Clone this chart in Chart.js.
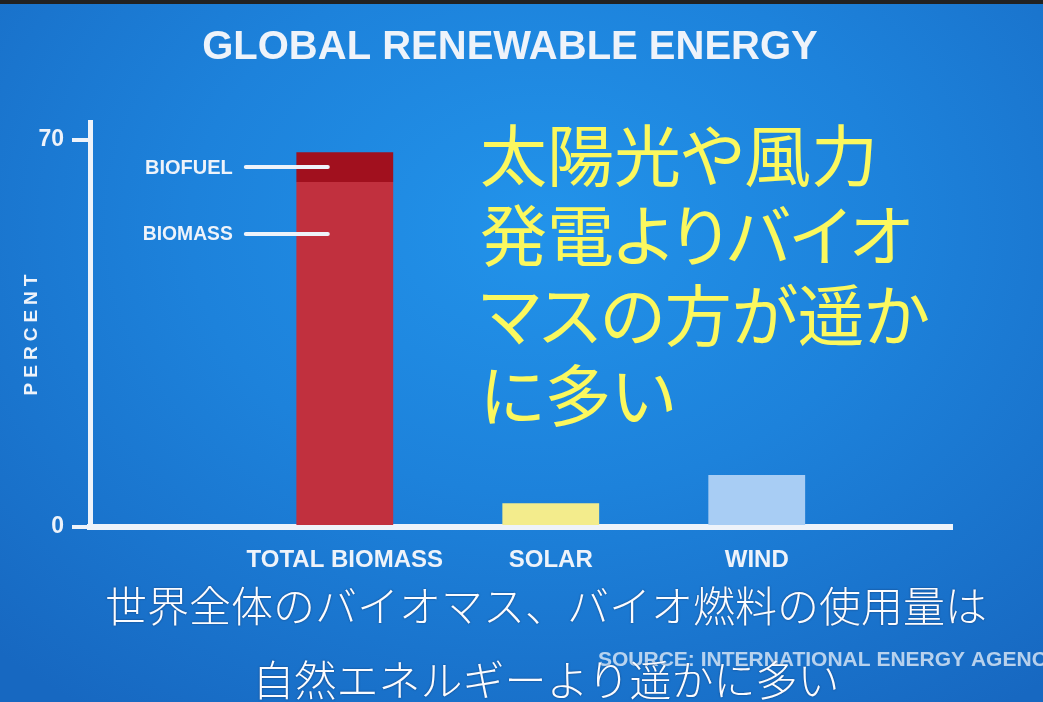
<!DOCTYPE html>
<html>
<head>
<meta charset="utf-8">
<script src="https://cdn.jsdelivr.net/npm/chart.js@4.4.1/dist/chart.umd.min.js"></script>
<style>
    html, body { margin: 0; padding: 0; background: #1c1c1c; }
    #wrap {
        position: relative; width: 1043px; height: 702px; overflow: hidden;
        background: radial-gradient(ellipse 75% 85% at 52% 32%, #2293ea 0%, #1d82db 45%, #1768c1 100%);
    }
    #strip { position: absolute; left: 0; top: 0; width: 100%; height: 4px; background: #222; }
    #chart { position: absolute; left: 0; top: 0; width: 1043px; height: 702px; }
    #note {
        position: absolute; left: 480px; top: 112px;
        font-family: "Noto Sans CJK JP", sans-serif; font-size: 67px; line-height: 80px;
        font-feature-settings: "palt";
        color: #fbf85e; white-space: nowrap;
    }
    #sub {
        position: absolute; left: 0; top: 567px; width: 1092px; text-align: center;
        font-family: "Noto Sans CJK JP", sans-serif; font-weight: 300; font-size: 42px; line-height: 74px;
        color: #fbfcff; white-space: nowrap;
        text-shadow: 0 0 2px rgba(20, 40, 80, 0.7);
    }
</style>
</head>
<body>
<div id="wrap">
    <div id="strip"></div>
    <div id="chart"><canvas id="energyChart"></canvas></div>
    <div id="note">太陽光や風力<br>発電よりバイオ<br>マスの方が遥か<br>に多い</div>
    <div id="sub">世界全体のバイオマス、バイオ燃料の使用量は<br>自然エネルギーより遥かに多い</div>
</div>
<script>
// === Data ===
const categories = ['TOTAL BIOMASS', 'SOLAR', 'WIND'];
const mainValues = [62.4, 4.3, 9.4];     // biomass / solar / wind (percent)
const biofuelValues = [5.4, 0, 0];       // biofuel on top of total biomass
const yTicks = [0, 70];

const barColors = ['#c1303e', '#f3ec8c', '#a8cdf4'];
const biofuelColor = '#a1101e';
const TEXT = '#eef3fa';
const FONT = '"Liberation Sans", Arial, sans-serif';

// annotation anchor for the BIOMASS label (percent)
const biomassLabelAt = 53;

// === Texts drawn on the canvas ===
const overlay = {
    id: 'overlay',
    afterDraw(chart) {
        const { ctx, chartArea, scales: { y } } = chart;
        const bar = chart.getDatasetMeta(0).data[0];

        ctx.save();
        ctx.fillStyle = TEXT;
        ctx.strokeStyle = TEXT;

        // title
        ctx.font = 'bold 40px ' + FONT;
        ctx.textAlign = 'center';
        ctx.textBaseline = 'middle';
        ctx.fillText('GLOBAL RENEWABLE ENERGY', 510, 48);

        // biofuel / biomass labels
        const labels = [
            ['BIOFUEL', y.getPixelForValue(mainValues[0] + biofuelValues[0] / 2)],
            ['BIOMASS', y.getPixelForValue(biomassLabelAt)]
        ];
        ctx.font = 'bold 20px ' + FONT;
        ctx.textAlign = 'right';
        ctx.lineWidth = 4;
        ctx.lineCap = 'round';
        labels.forEach(([txt, py]) => {
            ctx.fillText(txt, bar.x - 112, py + 1, 90);
            ctx.beginPath();
            ctx.moveTo(bar.x - 99, py);
            ctx.lineTo(bar.x - 17, py);
            ctx.stroke();
        });

        // source (runs off the right edge, as in the video frame)
        ctx.globalAlpha = 0.75;
        ctx.font = 'bold 21px ' + FONT;
        ctx.textAlign = 'left';
        ctx.fillText('SOURCE: INTERNATIONAL ENERGY AGENCY', 598, 660);
        ctx.globalAlpha = 1;

        // axis title
        ctx.translate(32, (chartArea.top + chartArea.bottom) / 2 + 8);
        ctx.rotate(-Math.PI / 2);
        ctx.font = 'bold 19px ' + FONT;
        ctx.letterSpacing = '5px';
        ctx.textAlign = 'center';
        ctx.fillText('PERCENT', 0, 0);
        ctx.restore();
    }
};

// === Chart ===
document.addEventListener('DOMContentLoaded', function() {
    const ctx = document.getElementById('energyChart').getContext('2d');
    new Chart(ctx, {
        type: 'bar',
        data: {
            datasets: [
                {
                    label: 'MAIN',
                    data: categories.map((c, i) => ({ x: i, y: mainValues[i] })),
                    backgroundColor: barColors
                },
                {
                    label: 'BIOFUEL',
                    data: categories.map((c, i) => ({ x: i, y: biofuelValues[i] })),
                    backgroundColor: biofuelColor
                }
            ]
        },
        options: {
            responsive: true,
            maintainAspectRatio: false,
            animation: false,
            barPercentage: 0.47,
            categoryPercentage: 1,
            layout: { padding: { left: 0, right: 91, top: 122, bottom: 0 } },
            plugins: {
                legend: { display: false },
                tooltip: { enabled: false }
            },
            scales: {
                x: {
                    type: 'linear',
                    stacked: true,
                    offset: false,
                    min: -1.237,
                    max: 2.948,
                    afterBuildTicks: s => { s.ticks = categories.map((c, i) => ({ value: i })); },
                    afterFit: s => { s.height = 702 - 527; },
                    ticks: {
                        color: TEXT,
                        font: { family: FONT, size: 24, weight: 'bold' },
                        padding: 19,
                        maxRotation: 0,
                        autoSkip: false,
                        callback: v => categories[v] || ''
                    },
                    grid: { display: false, drawTicks: false },
                    border: { display: true, color: TEXT, width: 6 }
                },
                y: {
                    stacked: true,
                    min: 0,
                    max: 73.25,
                    afterBuildTicks: s => { s.ticks = yTicks.map(v => ({ value: v })); },
                    afterFit: s => { s.width = 90; },
                    ticks: {
                        color: TEXT,
                        font: { family: FONT, size: 23, weight: 'bold' },
                        padding: 8
                    },
                    grid: {
                        drawOnChartArea: false,
                        drawTicks: true,
                        tickLength: 18,
                        lineWidth: 4,
                        color: TEXT
                    },
                    border: { display: true, color: TEXT, width: 5 }
                }
            }
        },
        plugins: [overlay]
    });
});
</script>
</body>
</html>
